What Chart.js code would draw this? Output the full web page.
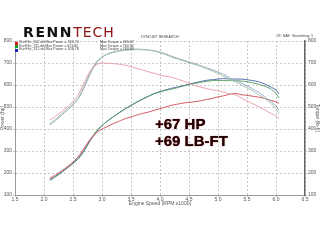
<!DOCTYPE html>
<html>
<head>
<meta charset="utf-8">
<script src="https://cdn.jsdelivr.net/npm/chart.js@4"></script>
<style>
html, body { margin: 0; padding: 0; background: #fff; }
#wrap { position: relative; width: 320px; height: 240px; overflow: hidden; font-family: 'Liberation Sans', Arial, sans-serif; }
#wrap canvas { position: absolute; left: 0; top: 0; }
.t { position: absolute; white-space: nowrap; line-height: 1; }
.logo { left: 23px; top: 25px; font-size: 14px; font-family: 'DejaVu Sans', sans-serif; }
.renn { font-weight: bold; color: #111; letter-spacing: 1.6px; }
.tech { font-weight: normal; color: #8e1414; letter-spacing: 1px; }
.tiny { font-size: 3.6px; color: #444; }
.sq { position: absolute; width: 3px; height: 3px; }
.big { font-size: 15px; font-weight: bold; color: #1e0000; text-shadow: 0 0 1px #7a0000; line-height: 16px; }
</style>
</head>
<body>
<div id="wrap">
  <canvas id="dyno" width="320" height="240"></canvas>
  <div class="t logo"><span class="renn">RENN</span><span class="tech">TECH</span></div>
  <div class="t tiny" style="left:141px;top:36px;">DYNOJET RESEARCH</div>
  <div class="t tiny" style="left:276px;top:35px;">CF: SAE&nbsp;&nbsp;Smoothing: 5</div>
  <div id="legend"></div>
  <div class="t big" style="left:155px;top:116px;">+67 HP</div>
  <div class="t big" style="left:155px;top:133px;">+69 LB-FT</div>
</div>
<script>
// ── DATA ──
const rpm = [2.1, 2.2, 2.3, 2.4, 2.5, 2.6, 2.7, 2.8, 2.9, 3.0, 3.1, 3.2, 3.3, 3.4, 3.5, 3.6, 3.7, 3.8, 3.9, 4.0,
             4.1, 4.2, 4.3, 4.4, 4.5, 4.6, 4.7, 4.8, 4.9, 5.0, 5.1, 5.2, 5.3, 5.4, 5.5, 5.6, 5.7, 5.8, 5.9, 6.0, 6.05];

const redTorque   = [440, 458, 478, 500, 525, 560, 615, 665, 692, 700, 698, 697, 694, 690, 683, 675, 668, 660, 653, 646,
                     640, 635, 627, 618, 608, 598, 590, 584, 578, 574, 567, 560, 556, 541, 528, 515, 502, 488, 473, 458, 448];
const redPower    = [176, 192, 209, 228, 250, 277, 316, 354, 382, 400, 412, 425, 436, 447, 455, 463, 471, 477, 485, 492,
                     500, 508, 513, 518, 521, 524, 528, 534, 539, 546, 551, 558, 562, 556, 553, 549, 545, 539, 531, 523, 516];
const greenTorque = [425, 445, 468, 490, 515, 545, 600, 660, 705, 728, 740, 748, 754, 758, 760, 761, 760, 758, 755, 746,
                     738, 727, 718, 710, 701, 693, 684, 674, 664, 652, 639, 627, 614, 601, 587, 572, 556, 539, 520, 492, 470];
const greenPower  = [170, 186, 205, 224, 245, 270, 308, 352, 389, 416, 437, 456, 474, 491, 506, 521, 535, 548, 561, 568,
                     576, 581, 588, 595, 601, 607, 612, 616, 620, 621, 620, 620, 620, 618, 615, 610, 603, 595, 584, 562, 541];
const blueTorque  = [418, 438, 462, 485, 510, 540, 592, 652, 700, 726, 742, 750, 756, 760, 763, 763, 762, 759, 755, 749,
                     741, 731, 722, 713, 705, 697, 688, 679, 669, 659, 648, 633, 621, 610, 596, 582, 567, 548, 528, 505, 486];
const bluePower   = [167, 183, 202, 222, 243, 267, 304, 348, 386, 415, 438, 457, 475, 492, 508, 523, 537, 549, 561, 570,
                     578, 585, 591, 597, 604, 610, 616, 621, 624, 627, 629, 627, 627, 627, 624, 620, 615, 605, 593, 577, 560];

const runNames  = ['RunFile_302.drf', 'RunFile_311.drf', 'RunFile_312.drf'];
const maxPower  = ['563.70', '621.82', '628.78'];
const maxTorque = ['696.67', '760.92', '763.83'];
const runColors = ['#e01818', '#189a28', '#1828c8'];

const TICK_FONT = { family: "'Liberation Sans', Arial, sans-serif", size: 5 };

// ── LEGEND ──
const legend = document.getElementById('legend');
runNames.forEach((name, i) => {
  const y = 41.5 + i * 3.5;
  legend.insertAdjacentHTML('beforeend',
    `<div class="sq" style="left:15px;top:${y}px;background:${runColors[i]}"></div>` +
    `<div class="t tiny" style="left:19px;top:${y - 0.2}px;">${name} Max Power = ${maxPower[i]}</div>` +
    `<div class="t tiny" style="left:100px;top:${y - 0.2}px;">Max Torque = ${maxTorque[i]}</div>`);
});

// ── CHART ──
const pts = arr => arr.map((v, i) => ({ x: rpm[i], y: v }));

function line(data, color, axis) {
  return { data: pts(data), borderColor: color, borderWidth: 1, pointRadius: 0, tension: 0.2, yAxisID: axis };
}

const yScale = (pos, title, onArea) => ({
  type: 'linear',
  position: pos,
  min: 100, max: 800,
  afterFit: s => { s.width = 15; },
  ticks: { stepSize: 100, color: '#555', font: TICK_FONT, padding: 1 },
  grid:  { color: '#c8c8c8', drawOnChartArea: onArea, tickLength: 2 },
  border:{ color: pos === 'right' ? '#666' : '#999', width: pos === 'right' ? 1.5 : 1, dash: [2, 2] },
  title: { display: true, text: title, color: '#555', font: TICK_FONT, padding: 0 },
});

new Chart(document.getElementById('dyno').getContext('2d'), {
  type: 'line',
  data: {
    datasets: [
      line(redTorque,   '#e4a0a8', 'y2'),
      line(greenTorque, '#9cc0a4', 'y2'),
      line(blueTorque,  '#98a8c8', 'y2'),
      line(redPower,    '#d2505c', 'y'),
      line(greenPower,  '#5a9c68', 'y'),
      line(bluePower,   '#4a68a8', 'y'),
    ],
  },
  options: {
    responsive: false,
    animation: false,
    devicePixelRatio: 1,
    layout: { padding: { top: 41, bottom: 33, left: 0, right: 0 } },
    plugins: { legend: { display: false }, tooltip: { enabled: false } },
    scales: {
      x: {
        type: 'linear',
        min: 1.5, max: 6.5,
        afterFit: s => { s.height = 12; },
        ticks: { stepSize: 0.5, color: '#555', font: TICK_FONT, padding: 0, maxRotation: 0,
                 callback: v => v.toFixed(1) },
        grid:  { color: '#c8c8c8', tickLength: 2 },
        border:{ color: '#999', dash: [2, 2] },
        title: { display: true, text: 'Engine Speed (RPM x1000)', color: '#555', font: TICK_FONT, padding: 0 },
      },
      y:  yScale('left',  'Power (hp)', true),
      y2: yScale('right', 'Torque (lb-ft)', false),
    },
  },
});
</script>
</body>
</html>
